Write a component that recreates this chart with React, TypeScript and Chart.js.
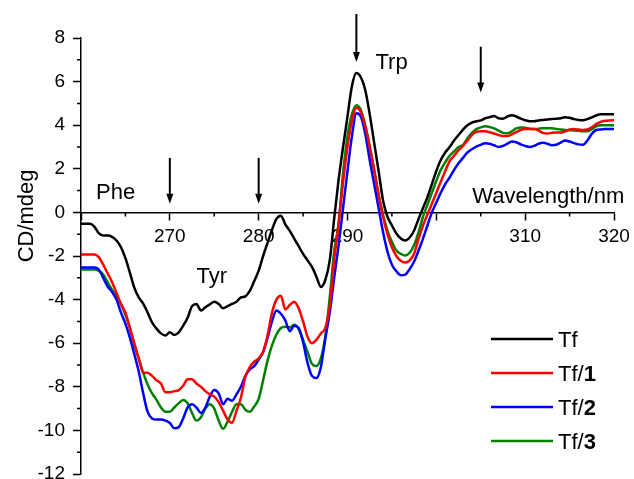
import React, { useEffect, useRef } from 'react';
import { Chart, registerables } from 'chart.js';

Chart.register(...registerables);

const FONT = '"Liberation Sans", Arial, Helvetica, sans-serif';

// wavelength grid (nm), 260 → 320 every 0.5 nm
const WAVELENGTHS: number[] = Array.from({ length: 121 }, (_, i) => 260 + i * 0.5);

const TF = [
  -0.52, -0.52, -0.52, -0.65, -0.95, -1.06, -1.06, -1.12, -1.29, -1.6,
  -2.1, -2.76, -3.45, -3.9, -4.18, -4.6, -5.05, -5.33, -5.55, -5.65,
  -5.5, -5.62, -5.5, -5.2, -4.83, -4.3, -4.2, -4.5, -4.35, -4.22,
  -4.1, -4.2, -4.4, -4.3, -4.2, -4.1, -3.9, -3.85, -3.6, -3.15,
  -2.67, -2.0, -1.4, -0.8, -0.3, -0.15, -0.55, -0.85, -1.2, -1.55,
  -1.9, -2.2, -2.5, -2.95, -3.42, -3.1, -2.2, -0.3, 1.5, 3.0,
  4.4, 5.8, 6.39, 6.2, 5.6, 4.5, 3.2, 1.9, 0.55, -0.2,
  -0.6, -0.97, -1.2, -1.29, -1.15, -0.83, -0.3, 0.2, 0.7, 1.3,
  1.9, 2.4, 2.75, 3.0, 3.3, 3.55, 3.8, 4.0, 4.12, 4.18,
  4.22, 4.32, 4.37, 4.42, 4.32, 4.3, 4.4, 4.46, 4.4, 4.3,
  4.23, 4.18, 4.18, 4.22, 4.24, 4.26, 4.28, 4.3, 4.32, 4.37,
  4.34, 4.28, 4.24, 4.23, 4.28, 4.36, 4.45, 4.5, 4.5, 4.5,
  4.5,
];

const TF1 = [
  -1.93, -1.93, -1.93, -1.93, -2.05, -2.4, -2.8, -3.2, -3.7, -4.2,
  -4.6, -5.3, -6.0, -6.7, -7.35, -7.36, -7.5, -7.7, -7.85, -8.25,
  -8.25, -8.2, -8.15, -7.95, -7.65, -7.65, -7.85, -8.0, -8.2, -8.35,
  -8.45, -8.7, -9.1, -9.5, -9.65, -9.1, -8.5, -7.55, -7.1, -6.85,
  -6.7, -6.4, -5.65, -4.6, -4.0, -3.82, -4.45, -4.25, -4.1, -4.4,
  -5.0, -5.7, -6.0, -5.85, -5.55, -5.3, -4.3, -2.2, -0.5, 1.4,
  3.0, 4.2, 4.8, 4.6, 3.95, 3.0, 1.95, 0.8, -0.2, -1.0,
  -1.6, -2.0, -2.22, -2.3, -2.2, -1.9, -1.2, -0.6, -0.1, 0.4,
  0.9, 1.4, 1.9, 2.35, 2.6, 2.85, 3.05, 3.3, 3.55, 3.7,
  3.72, 3.72, 3.68, 3.62, 3.55, 3.5, 3.5, 3.58, 3.68, 3.78,
  3.82, 3.82, 3.82, 3.76, 3.65, 3.62, 3.65, 3.67, 3.66, 3.72,
  3.8, 3.82, 3.8, 3.78, 3.8, 3.9, 4.05, 4.15, 4.2, 4.22,
  4.23,
];

const TF2 = [
  -2.53, -2.53, -2.53, -2.53, -2.62, -3.0, -3.4, -3.65, -4.0, -4.6,
  -5.1, -5.75, -6.5, -7.3, -8.3, -9.15, -9.45, -9.5, -9.5, -9.55,
  -9.66, -9.9, -9.85, -9.45, -8.95, -8.8, -8.95, -9.2, -8.95, -8.45,
  -8.15, -8.3, -8.8, -8.55, -8.64, -8.35, -8.0, -7.5, -7.2, -7.05,
  -6.75, -6.4, -5.75, -5.0, -4.5, -4.65, -4.95, -5.45, -5.2, -5.3,
  -5.95, -6.9, -7.5, -7.6, -7.1, -5.8, -4.6, -3.0, -1.5, 0.2,
  1.9, 3.5, 4.55, 4.4, 3.6, 2.4, 1.3, 0.2, -0.9, -1.8,
  -2.4, -2.7, -2.88, -2.85, -2.6, -2.25, -1.75, -1.2, -0.6, 0.0,
  0.45, 0.9, 1.3, 1.6, 1.95, 2.25, 2.5, 2.75, 2.9, 3.02,
  3.1, 3.17, 3.15, 3.08, 3.0, 3.05, 3.15, 3.25, 3.22, 3.12,
  3.05, 3.0, 3.05, 3.15, 3.2, 3.15, 3.08, 3.1, 3.2, 3.3,
  3.25, 3.18, 3.12, 3.1, 3.3, 3.6, 3.78, 3.8, 3.82, 3.82,
  3.82,
];

const TF3 = [
  -2.62, -2.62, -2.62, -2.62, -2.68, -2.85, -3.2, -3.55, -3.85, -4.2,
  -4.7, -5.3, -6.1, -6.7, -7.35, -7.9, -8.3, -8.6, -8.95, -9.15,
  -9.15, -8.95, -8.75, -8.6, -8.75, -9.2, -9.55, -9.4, -9.0, -8.8,
  -9.0, -9.55, -9.93, -9.6, -9.15, -8.8, -8.8, -9.05, -9.15, -8.9,
  -8.55, -7.7, -6.8, -6.1, -5.6, -5.3, -5.24, -5.28, -5.15, -5.35,
  -5.85, -6.4, -6.95, -7.05, -6.7, -5.7, -3.9, -1.8, -0.5, 1.8,
  3.5, 4.5, 4.92, 4.7, 4.0, 3.05, 1.95, 0.8, -0.1, -0.85,
  -1.35, -1.75, -1.9, -1.98, -1.85, -1.5, -0.9, -0.2, 0.35, 0.9,
  1.45, 1.95, 2.3, 2.6, 2.8, 3.0, 3.1, 3.4, 3.65, 3.82,
  3.9, 3.95, 3.92, 3.85, 3.75, 3.65, 3.63, 3.72, 3.85, 3.9,
  3.88, 3.84, 3.82, 3.84, 3.86, 3.86, 3.86, 3.83, 3.8, 3.78,
  3.77, 3.76, 3.74, 3.72, 3.72, 3.82, 3.95, 4.0, 4.0, 4.0,
  4.0,
];

const SERIES_VALUES = [TF, TF1, TF2, TF3];
const SERIES_LABELS = ['Tf', 'Tf/1', 'Tf/2', 'Tf/3'];
const SERIES_BOLD_PART = ['', '1', '2', '3'];
const SERIES_COLORS = ['#000000', '#ff0000', '#0000ff', '#008000'];

const X_LABELLED_TICKS = [270, 280, 290, 310, 320];
const X_MINOR_TICKS = [265, 275, 285, 295, 305, 315];
const Y_MINOR_TICKS = [-11, -9, -7, -5, -3, -1, 1, 3, 5, 7];

const X_TITLE = 'Wavelength/nm';
const Y_TITLE = 'CD/mdeg';

// arrows marking residue bands
const ARROW_X = [270, 280, 291, 305];
const ARROW_FROM = [2.5, 2.5, 9.1, 7.6];
const ARROW_TO = [0.4, 0.4, 6.9, 5.5];

// residue annotations
const NOTE_TEXT = ['Phe', 'Tyr', 'Trp'];
const NOTE_X = [261.7, 273.0, 293.15];
const NOTE_Y = [0.6, -3.26, 6.57];

const decorPlugin = {
  id: 'decor',
  afterDraw(chart: any) {
    const { ctx, chartArea } = chart;
    const xs = chart.scales.x;
    const ys = chart.scales.y;
    const y0 = ys.getPixelForValue(0);
    ctx.save();
    ctx.strokeStyle = '#000';
    ctx.fillStyle = '#000';
    ctx.lineWidth = 1.5;
    ctx.beginPath();
    for (const v of Y_MINOR_TICKS) {
      const p = ys.getPixelForValue(v);
      ctx.moveTo(chartArea.left - 4, p);
      ctx.lineTo(chartArea.left, p);
    }
    for (const v of X_MINOR_TICKS) {
      const p = xs.getPixelForValue(v);
      ctx.moveTo(p, y0);
      ctx.lineTo(p, y0 + 4);
    }
    ctx.stroke();

    // arrows
    ctx.lineWidth = 2;
    ARROW_X.forEach((wl, i) => {
      const x = xs.getPixelForValue(wl);
      const yTop = ys.getPixelForValue(ARROW_FROM[i]);
      const yTip = ys.getPixelForValue(ARROW_TO[i]);
      ctx.beginPath();
      ctx.moveTo(x, yTop);
      ctx.lineTo(x, yTip - 8);
      ctx.stroke();
      ctx.beginPath();
      ctx.moveTo(x - 3.5, yTip - 10);
      ctx.lineTo(x + 3.5, yTip - 10);
      ctx.lineTo(x, yTip);
      ctx.closePath();
      ctx.fill();
    });

    // annotations
    ctx.font = `22px ${FONT}`;
    ctx.textAlign = 'left';
    ctx.textBaseline = 'alphabetic';
    NOTE_TEXT.forEach((t, i) => {
      ctx.fillText(t, xs.getPixelForValue(NOTE_X[i]), ys.getPixelForValue(NOTE_Y[i]));
    });
    ctx.fillText(X_TITLE, xs.getPixelForValue(304.04), ys.getPixelForValue(0.41));

    // y title
    ctx.save();
    ctx.translate(33, y0 + 3.5);
    ctx.rotate(-Math.PI / 2);
    ctx.textAlign = 'center';
    ctx.fillText(Y_TITLE, 0, 0);
    ctx.restore();

    // legend
    chart.data.datasets.forEach((ds: any, i: number) => {
      const y = 339 + i * 34;
      ctx.strokeStyle = ds.borderColor;
      ctx.lineWidth = 2.5;
      ctx.beginPath();
      ctx.moveTo(491, y);
      ctx.lineTo(553, y);
      ctx.stroke();
      const bold = SERIES_BOLD_PART[i];
      const label: string = ds.label;
      const base = bold ? label.slice(0, label.length - bold.length) : label;
      ctx.fillStyle = '#000';
      ctx.font = `22px ${FONT}`;
      ctx.textAlign = 'left';
      ctx.fillText(base, 558, y + 8);
      if (bold) {
        const w = ctx.measureText(base).width;
        ctx.font = `bold 22px ${FONT}`;
        ctx.fillText(bold, 558 + w, y + 8);
      }
    });
    ctx.restore();
  },
};

export default function App() {
  const canvasRef = useRef<HTMLCanvasElement | null>(null);

  useEffect(() => {
    if (!canvasRef.current) return;
    const datasets = SERIES_VALUES.map((vals, si) => ({
      label: SERIES_LABELS[si],
      data: vals.map((v, i) => ({ x: WAVELENGTHS[i], y: v })),
      borderColor: SERIES_COLORS[si],
      backgroundColor: SERIES_COLORS[si],
      borderWidth: 2.5,
      pointRadius: 0,
      fill: false,
      cubicInterpolationMode: 'monotone' as const,
    }));
    const tickFont = { family: FONT, size: 19 };
    const chart = new Chart(canvasRef.current, {
      type: 'line',
      data: { datasets },
      plugins: [decorPlugin],
      options: {
        animation: false,
        responsive: true,
        maintainAspectRatio: false,
        layout: { padding: { left: 0, right: 20, top: 38, bottom: 5 } },
        plugins: { legend: { display: false }, tooltip: { enabled: false } },
        scales: {
          x: {
            type: 'linear',
            min: 260,
            max: 320,
            position: { y: 0 } as any,
            ticks: {
              stepSize: 10,
              autoSkip: false,
              maxRotation: 0,
              color: '#000',
              font: tickFont,
              padding: 6,
              callback: (v: any) => (X_LABELLED_TICKS.includes(Number(v)) ? String(v) : ''),
            },
            grid: {
              drawOnChartArea: false,
              drawTicks: true,
              tickLength: 7,
              tickWidth: 1.5,
              tickColor: '#000',
            },
            border: { display: true, color: '#000', width: 1.5 },
            afterFit: (s: any) => {
              s.paddingLeft = 0;
              s.paddingRight = 0;
            },
          },
          y: {
            type: 'linear',
            min: -12,
            max: 8,
            ticks: { stepSize: 2, color: '#000', font: tickFont, padding: 8 },
            grid: {
              drawOnChartArea: false,
              drawTicks: true,
              tickLength: 8,
              tickWidth: 1.5,
              tickColor: '#000',
            },
            border: { display: true, color: '#000', width: 1.5 },
            afterFit: (s: any) => {
              s.width = 81;
              s.paddingTop = 0;
              s.paddingBottom = 0;
            },
          },
        },
      },
    });
    return () => chart.destroy();
  }, []);

  return (
    <div style={{ position: 'fixed', left: 0, top: 0, width: 634, height: 479, background: '#fff' }}>
      <canvas ref={canvasRef} />
    </div>
  );
}
